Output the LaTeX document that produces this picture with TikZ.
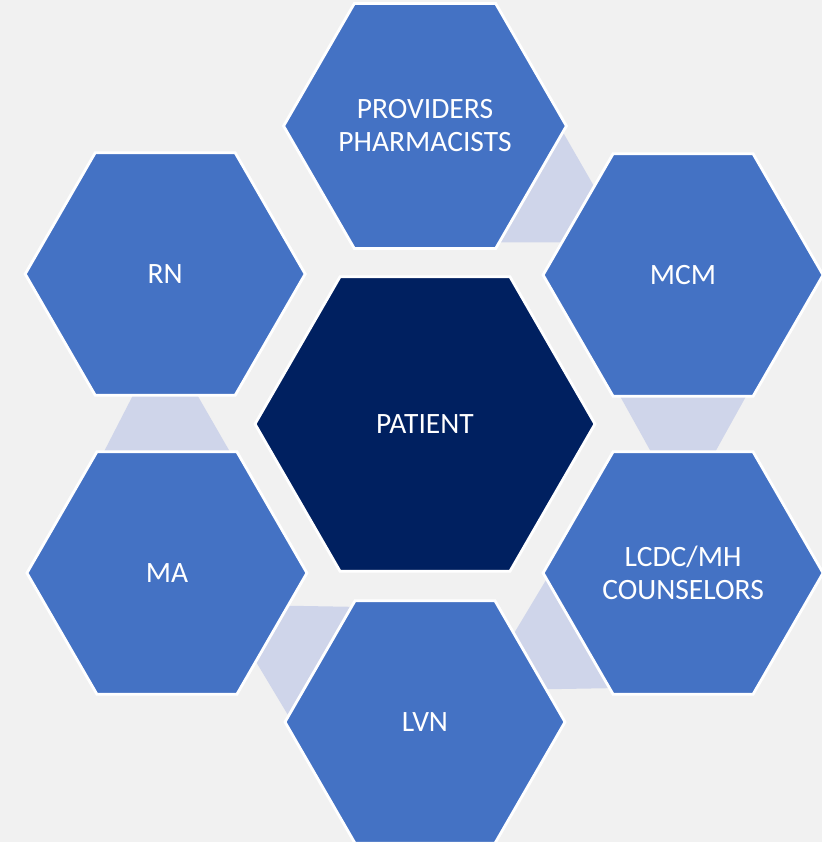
\documentclass[tikz,border=0pt]{standalone}
\usepackage{fontspec}
\setmainfont{Carlito}
\usetikzlibrary{shapes.geometric,calc,backgrounds}
\definecolor{roleblue}{HTML}{4472C4}
\definecolor{navy}{HTML}{002060}
\definecolor{linkblue}{HTML}{CFD5EA}
\definecolor{backdrop}{HTML}{F1F1F1}

\begin{document}
\begin{tikzpicture}
          [role/.style={regular polygon,regular polygon sides=6,draw=white,line width=2pt,
                        fill=roleblue,text=white,inner sep=0pt,outer sep=0pt,minimum size=7cm,
                        align=center,font=\fontsize{21}{23.5}\selectfont},
          patient/.style={role,fill=navy,minimum size=8.5cm},
          link/.style={fill=linkblue}]
          \useasboundingbox (-10.625,-10.45) rectangle (9.925,10.6);
          \node[patient] (patient) at (0,0)      {PATIENT};
          \node[role]    (prov)    at (90:7.45)  {PROVIDERS\\PHARMACISTS};
          \node[role]    (mcm)     at (30:7.45)  {MCM};
          \node[role]    (lcdc)    at (-30:7.45) {LCDC/MH\\COUNSELORS};
          \node[role]    (lvn)     at (-90:7.45) {LVN};
          \node[role]    (ma)      at (210:7.45) {MA};
          \node[role]    (rn)      at (150:7.5)  {RN};
          % links go behind the hexagons
          \begin{scope}[on background layer]
          \fill[backdrop] (-10.625,-10.45) rectangle (9.925,10.6);
          \fill[link] ($(prov.300)!0.05!(prov.0)$) -- ($(prov.300)!0.95!(prov.0)$)
                   -- ($(mcm.180)!0.73!(mcm.120)$) -- ($(mcm.180)!0.27!(mcm.120)$) -- cycle;
          \fill[link] ($(mcm.240)!0.05!(mcm.300)$) -- ($(mcm.240)!0.95!(mcm.300)$)
                   -- ($(lcdc.120)!0.73!(lcdc.60)$) -- ($(lcdc.120)!0.27!(lcdc.60)$) -- cycle;
          \fill[link] ($(lcdc.180)!0.05!(lcdc.240)$) -- ($(lcdc.180)!0.95!(lcdc.240)$)
                   -- ($(lvn.60)!0.73!(lvn.0)$) -- ($(lvn.60)!0.27!(lvn.0)$) -- cycle;
          \fill[link] ($(lvn.120)!0.05!(lvn.180)$) -- ($(lvn.120)!0.95!(lvn.180)$)
                   -- ($(ma.0)!0.73!(ma.300)$) -- ($(ma.0)!0.27!(ma.300)$) -- cycle;
          \fill[link] ($(ma.60)!0.05!(ma.120)$) -- ($(ma.60)!0.95!(ma.120)$)
                   -- ($(rn.300)!0.73!(rn.240)$) -- ($(rn.300)!0.27!(rn.240)$) -- cycle;
          \end{scope}
        \end{tikzpicture}
\end{document}
